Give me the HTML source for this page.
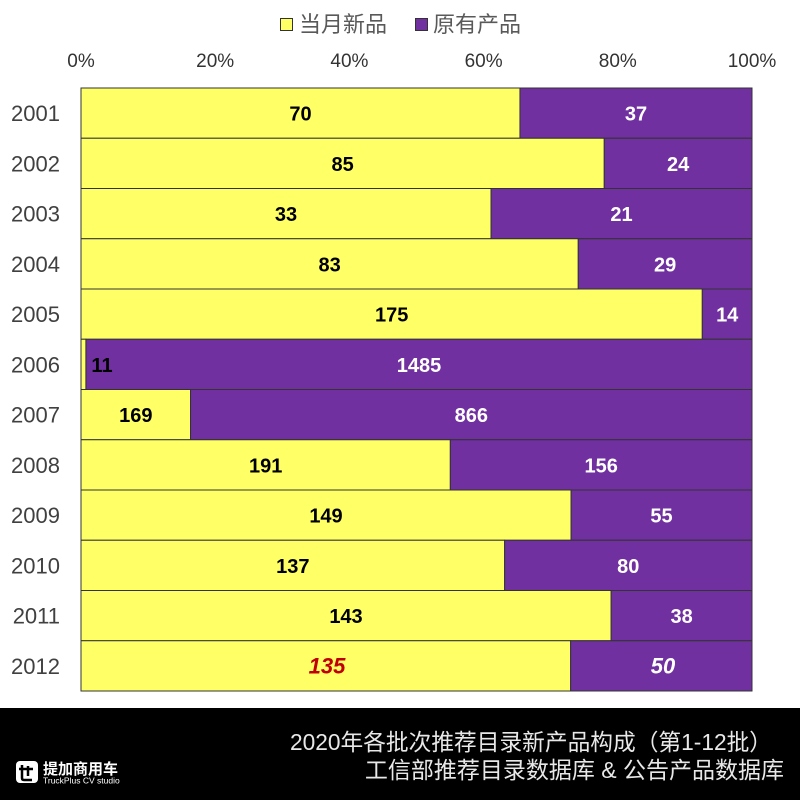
<!DOCTYPE html>
<html>
<head>
<meta charset="utf-8">
<style>
html,body{margin:0;padding:0;background:#fff;}
body{width:800px;height:800px;overflow:hidden;position:relative;}
svg{display:block;}
</style>
</head>
<body>
<svg width="800" height="800" viewBox="0 0 800 800" xmlns="http://www.w3.org/2000/svg">
<rect x="0" y="0" width="800" height="800" fill="#fff"/>
<!-- legend -->
<rect x="280.5" y="18.5" width="12" height="12" fill="#FFFF66" stroke="#333" stroke-width="1"/>
<text x="299" y="32" font-size="22" fill="#595959" font-family="Liberation Sans, Noto Sans CJK SC, sans-serif">当月新品</text>
<rect x="415.5" y="18.5" width="12" height="12" fill="#7030A0" stroke="#333" stroke-width="1"/>
<text x="433" y="32" font-size="22" fill="#595959" font-family="Liberation Sans, Noto Sans CJK SC, sans-serif">原有产品</text>
<!-- axis ticks -->
<g font-size="19" fill="#333" text-anchor="middle" font-family="Liberation Sans, sans-serif">
<text x="81" y="67">0%</text>
<text x="215.2" y="67">20%</text>
<text x="349.4" y="67">40%</text>
<text x="483.6" y="67">60%</text>
<text x="617.8" y="67">80%</text>
<text x="752" y="67">100%</text>
</g>
<!-- bars -->
<g stroke="#333" stroke-width="1">
<rect x="81" y="88" width="438.97" height="50.25" fill="#FFFF66"/><rect x="519.97" y="88" width="232.03" height="50.25" fill="#7030A0"/>
<rect x="81" y="138.25" width="523.26" height="50.25" fill="#FFFF66"/><rect x="604.26" y="138.25" width="147.74" height="50.25" fill="#7030A0"/>
<rect x="81" y="188.5" width="410.06" height="50.25" fill="#FFFF66"/><rect x="491.06" y="188.5" width="260.94" height="50.25" fill="#7030A0"/>
<rect x="81" y="238.75" width="497.26" height="50.25" fill="#FFFF66"/><rect x="578.26" y="238.75" width="173.74" height="50.25" fill="#7030A0"/>
<rect x="81" y="289" width="621.3" height="50.25" fill="#FFFF66"/><rect x="702.3" y="289" width="49.7" height="50.25" fill="#7030A0"/>
<rect x="81" y="339.25" width="4.93" height="50.25" fill="#FFFF66"/><rect x="85.93" y="339.25" width="666.07" height="50.25" fill="#7030A0"/>
<rect x="81" y="389.5" width="109.57" height="50.25" fill="#FFFF66"/><rect x="190.57" y="389.5" width="561.43" height="50.25" fill="#7030A0"/>
<rect x="81" y="439.75" width="369.34" height="50.25" fill="#FFFF66"/><rect x="450.34" y="439.75" width="301.66" height="50.25" fill="#7030A0"/>
<rect x="81" y="490" width="490.09" height="50.25" fill="#FFFF66"/><rect x="571.09" y="490" width="180.91" height="50.25" fill="#7030A0"/>
<rect x="81" y="540.25" width="423.63" height="50.25" fill="#FFFF66"/><rect x="504.63" y="540.25" width="247.37" height="50.25" fill="#7030A0"/>
<rect x="81" y="590.5" width="530.13" height="50.25" fill="#FFFF66"/><rect x="611.13" y="590.5" width="140.87" height="50.25" fill="#7030A0"/>
<rect x="81" y="640.75" width="489.65" height="50.25" fill="#FFFF66"/><rect x="570.65" y="640.75" width="181.35" height="50.25" fill="#7030A0"/>
</g>
<!-- year labels -->
<g font-size="22" fill="#404040" text-anchor="end" font-family="Liberation Sans, sans-serif">
<text x="60" y="121">2001</text>
<text x="60" y="171.3">2002</text>
<text x="60" y="221.5">2003</text>
<text x="60" y="271.8">2004</text>
<text x="60" y="322">2005</text>
<text x="60" y="372.3">2006</text>
<text x="60" y="422.5">2007</text>
<text x="60" y="472.8">2008</text>
<text x="60" y="523">2009</text>
<text x="60" y="573.3">2010</text>
<text x="60" y="623.5">2011</text>
<text x="60" y="673.8">2012</text>
</g>
<!-- data labels -->
<g font-size="20" font-weight="bold" text-anchor="middle" font-family="Liberation Sans, sans-serif">
<text x="300.5" y="120.5" fill="#000">70</text><text x="636" y="120.5" fill="#fff">37</text>
<text x="342.6" y="170.8" fill="#000">85</text><text x="678.1" y="170.8" fill="#fff">24</text>
<text x="286" y="221" fill="#000">33</text><text x="621.5" y="221" fill="#fff">21</text>
<text x="329.6" y="271.3" fill="#000">83</text><text x="665.1" y="271.3" fill="#fff">29</text>
<text x="391.7" y="321.5" fill="#000">175</text><text x="727.2" y="321.5" fill="#fff">14</text>
<text x="102" y="371.8" fill="#000">11</text><text x="419" y="371.8" fill="#fff">1485</text>
<text x="135.8" y="422" fill="#000">169</text><text x="471.3" y="422" fill="#fff">866</text>
<text x="265.7" y="472.3" fill="#000">191</text><text x="601.2" y="472.3" fill="#fff">156</text>
<text x="326" y="522.5" fill="#000">149</text><text x="661.5" y="522.5" fill="#fff">55</text>
<text x="292.8" y="572.8" fill="#000">137</text><text x="628.3" y="572.8" fill="#fff">80</text>
<text x="346" y="623" fill="#000">143</text><text x="681.6" y="623" fill="#fff">38</text>
<text x="327" y="673.5" fill="#C00000" font-style="italic" font-size="22">135</text><text x="663" y="673.5" fill="#fff" font-style="italic" font-size="22">50</text>
</g>
<!-- bottom band -->
<rect x="0" y="708" width="800" height="92" fill="#000"/>
<g font-size="23" fill="#e8e8e8" font-family="Liberation Sans, Noto Sans CJK SC, sans-serif">
<text x="290" y="750" textLength="482" lengthAdjust="spacingAndGlyphs">2020年各批次推荐目录新产品构成（第1-12批）</text>
<text x="784" y="778" text-anchor="end">工信部推荐目录数据库 &amp; 公告产品数据库</text>
</g>
<!-- logo -->
<rect x="16" y="761" width="22" height="22" rx="4" fill="#fff"/>
<path d="M22 765 v13 q0 2 2 2 h8 M19 769 h14 M28 766 v10" stroke="#000" stroke-width="2.5" fill="none"/>
<text x="43" y="774" font-size="15" font-weight="bold" fill="#fff" font-family="Liberation Sans, Noto Sans CJK SC, sans-serif">提加商用车</text>
<text x="43" y="783.5" font-size="8.5" fill="#fff" font-family="Liberation Sans, sans-serif">TruckPlus CV studio</text>
</svg>
</body>
</html>
